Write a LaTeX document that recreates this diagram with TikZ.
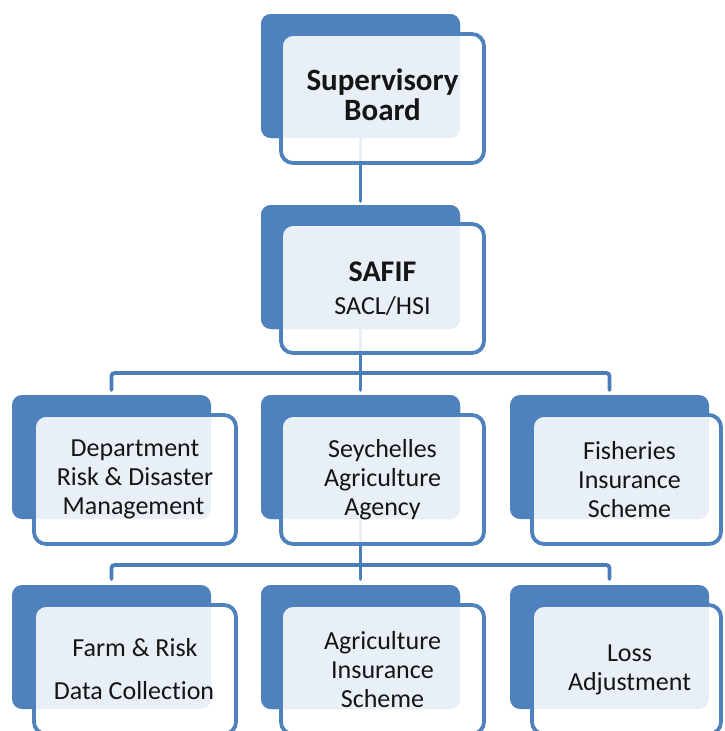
\documentclass[tikz,border=0pt]{standalone}
\usepackage{fontspec}
\setmainfont[Ligatures=NoCommon]{Carlito}
\definecolor{accblue}{HTML}{4F81BD}
\definecolor{connblue}{HTML}{4A7DBA}
\definecolor{txt}{HTML}{151515}
\begin{document}
\begin{tikzpicture}[x=1pt,y=-1pt,
  backbox/.style={rectangle, rounded corners=10pt, fill=accblue, draw=none, anchor=north west,
    minimum width=199pt, minimum height=124pt, inner sep=0pt, outer sep=0pt},
  frontbox/.style={rectangle, rounded corners=12pt, draw=accblue, line width=3.8pt,
    fill=white, fill opacity=0.88, text opacity=1, anchor=north west,
    minimum height=129pt, inner sep=0pt, outer sep=0pt, align=center, text=txt,
    font=\fontsize{26}{29}\selectfont},
  conn/.style={draw=connblue, line width=3.8pt, rounded corners=3pt, line cap=round}]
\useasboundingbox (0,0) rectangle (725,731);
\clip (0,0) rectangle (725,731);

% back boxes
\node[backbox] (bsup)  at (261,14)  {};
\node[backbox] (bsaf)  at (261,205) {};
\node[backbox] (bdep)  at (12,395)  {};
\node[backbox] (bsaa)  at (261,395) {};
\node[backbox] (bfis)  at (510,395) {};
\node[backbox] (bfar)  at (12,585)  {};
\node[backbox] (bagr)  at (261,585) {};
\node[backbox] (blos)  at (510,585) {};

% junctions
\coordinate (j1) at (360.5,373);
\coordinate (j2) at (360.5,565);

% connectors (drawn behind the front boxes)
\draw[conn, shorten >=4pt] (bsup.south) -- (bsaf.north);
\draw[conn] (bsaf.south) -- (j1);
\draw[conn, shorten >=5pt] (j1) -- (bsaa.north);
\draw[conn, shorten <=5pt, shorten >=5pt] (bdep.north) |- (j1) -| (bfis.north);
\draw[conn] (bsaa.south) -- (j2);
\draw[conn, shorten >=6pt] (j2) -- (bagr.north);
\draw[conn, shorten <=6pt, shorten >=6pt] (bfar.north) |- (j2) -| (blos.north);

% redraw back boxes over connector ends
\fill[accblue, rounded corners=10pt] (bsup.north west) rectangle (bsup.south east);
\fill[accblue, rounded corners=10pt] (bsaf.north west) rectangle (bsaf.south east);
\fill[accblue, rounded corners=10pt] (bsaa.north west) rectangle (bsaa.south east);
\fill[accblue, rounded corners=10pt] (bagr.north west) rectangle (bagr.south east);

% front boxes
\node[frontbox, minimum width=203pt] (fsup) at (281,34)
  {\raisebox{3pt}{\begin{tabular}{@{}c@{}}\fontsize{31}{33}\selectfont\bfseries Supervisory\\[-0.5pt]\fontsize{31}{33}\selectfont\bfseries Board\end{tabular}}};
\node[frontbox, minimum width=203pt] (fsaf) at (281,224)
  {\textbf{\fontsize{30}{33}\selectfont SAFIF}\\[4pt]SACL/HSI};
\node[frontbox, minimum width=202pt] (fdep) at (34,415)
  {Department\\Risk \& Disaster\\Management\hspace*{3pt}};
\node[frontbox, minimum width=203pt] (fsaa) at (281,415)
  {Seychelles\\Agriculture\\Agency};
\node[frontbox, minimum width=189pt] (ffis) at (532,415)
  {\hspace*{6pt}Fisheries\\\hspace*{6pt}Insurance\\\hspace*{6pt}Scheme};
\node[frontbox, minimum width=202pt] (ffar) at (34,605)
  {Farm \& Risk\\[14pt]Data Collection\hspace*{2pt}};
\node[frontbox, minimum width=203pt] (fagr) at (281,605)
  {Agriculture\\Insurance\\Scheme};
\node[frontbox, minimum width=189pt] (flos) at (532,605)
  {\hspace*{6pt}Loss\\\hspace*{6pt}Adjustment};
\end{tikzpicture}
\end{document}
